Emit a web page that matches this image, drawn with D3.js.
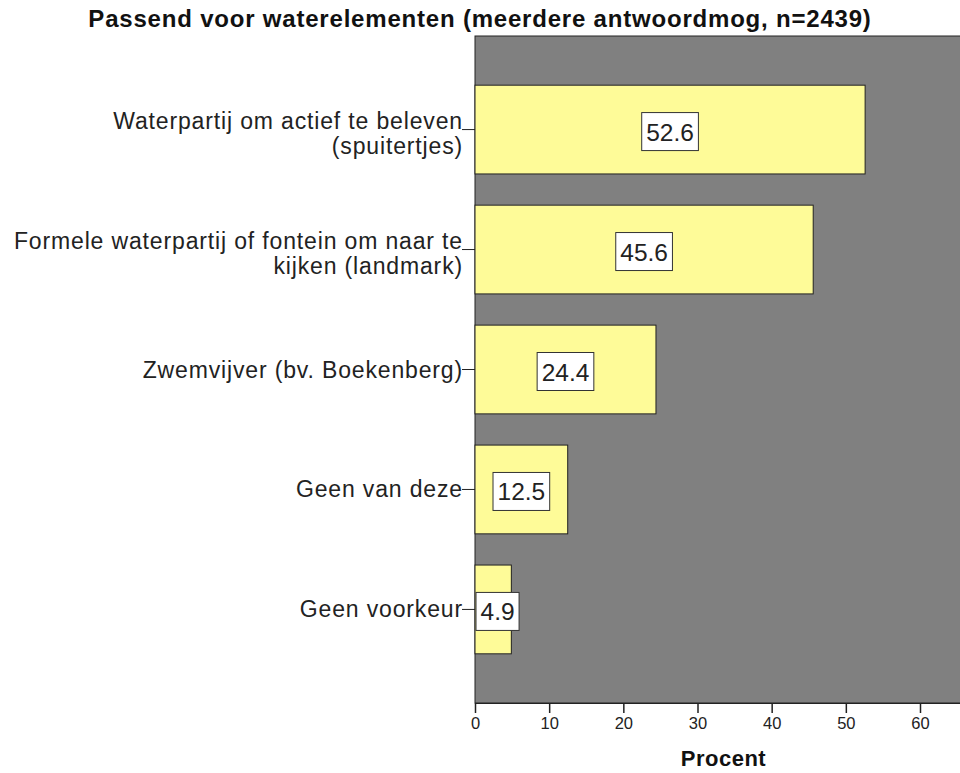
<!DOCTYPE html>
<html>
<head>
<meta charset="utf-8">
<script src="https://d3js.org/d3.v7.min.js"></script>
<style>
  body { margin: 0; background: #fff; }
  text { font-family: "Liberation Sans", Arial, sans-serif; }
</style>
</head>
<body>
<div class="chart"></div>
<script>
// data
const categories = [
  ["Waterpartij om actief te beleven", "(spuitertjes)"],
  ["Formele waterpartij of fontein om naar te", "kijken (landmark)"],
  ["Zwemvijver (bv. Boekenberg)"],
  ["Geen van deze"],
  ["Geen voorkeur"]
];
const percent = [52.6, 45.6, 24.4, 12.5, 4.9];
const xTicks = [0, 10, 20, 30, 40, 50, 60];
const titleText = "Passend voor waterelementen (meerdere antwoordmog, n=2439)";
const xTitle = "Procent";

const width = 960, height = 773;
const plotLeft = 475, plotTop = 36, plotBottom = 703;
const xMax = 66.5;

const svg = d3.select('.chart').append('svg')
  .attr('width', width)
  .attr('height', height);

const xScale = d3.scaleLinear()
  .domain([0, xMax])
  .range([plotLeft, plotLeft + xMax * 445 / 60]);
const plotRight = xScale(xMax);

const yScale = d3.scaleBand()
  .domain(d3.range(categories.length))
  .range([plotTop, plotBottom])
  .paddingInner(0.26)
  .paddingOuter(0.41);

// plot background
svg.append('rect')
  .attr('x', plotLeft).attr('y', plotTop)
  .attr('width', plotRight - plotLeft).attr('height', plotBottom - plotTop)
  .attr('fill', '#808080')
  .attr('stroke', '#222').attr('stroke-width', 1);

// bars
svg.selectAll('.bar')
  .data(percent)
  .join('rect')
  .attr('class', 'bar')
  .attr('x', xScale(0))
  .attr('y', (d, i) => yScale(i))
  .attr('width', d => xScale(d) - xScale(0))
  .attr('height', yScale.bandwidth())
  .attr('fill', '#fefb98')
  .attr('stroke', '#222')
  .attr('stroke-width', 1);

// value labels in boxes
const lab = svg.selectAll('.val')
  .data(percent)
  .join('g')
  .attr('class', 'val');
lab.append('text')
  .text(d => d.toFixed(1))
  .attr('font-size', 24.5)
  .attr('fill', '#222')
  .attr('text-anchor', 'middle');
lab.each(function(d, i) {
  const g = d3.select(this);
  const t = g.select('text');
  const w = t.node().getComputedTextLength() + 9;
  const h = 38;
  let cx = (xScale(0) + xScale(d)) / 2;
  cx = Math.max(cx, plotLeft + 1 + w / 2);
  const cy = yScale(i) + yScale.bandwidth() / 2 + 2;
  g.insert('rect', 'text')
    .attr('x', cx - w / 2).attr('y', cy - h / 2)
    .attr('width', w).attr('height', h)
    .attr('fill', '#fff')
    .attr('stroke', '#333').attr('stroke-width', 1);
  t.attr('x', cx).attr('y', cy + 9);
});

// y axis: ticks + category labels
const yAxisGroup = svg.append('g');
categories.forEach((lines, i) => {
  const cy = yScale(i) + yScale.bandwidth() / 2;
  yAxisGroup.append('line')
    .attr('x1', plotLeft - 13).attr('x2', plotLeft)
    .attr('y1', cy).attr('y2', cy)
    .attr('stroke', '#222');
  const t = yAxisGroup.append('text')
    .attr('text-anchor', 'end')
    .attr('font-size', 23)
    .attr('letter-spacing', 0.85)
    .attr('fill', '#222');
  lines.forEach((s, k) => {
    t.append('tspan')
      .attr('x', plotLeft - 12)
      .attr('y', lines.length > 1 ? cy - 1 + k * 25 : cy + 8)
      .text(s);
  });
});

// x axis
const xAxis = d3.axisBottom(xScale)
  .tickValues(xTicks)
  .tickSize(10)
  .tickPadding(4)
  .tickSizeOuter(0);
const xAxisGroup = svg.append('g')
  .attr('transform', `translate(0,${plotBottom})`)
  .call(xAxis);
xAxisGroup.select('.domain').attr('stroke', '#222');
xAxisGroup.selectAll('line').attr('stroke', '#222').attr('stroke-width', 1.5);
xAxisGroup.selectAll('text')
  .attr('font-size', 16.5)
  .attr('font-family', '"Liberation Sans", Arial, sans-serif')
  .attr('fill', '#222')
  .attr('dy', '0.71em');

svg.append('text')
  .attr('x', 723.5)
  .attr('y', 766)
  .attr('text-anchor', 'middle')
  .attr('font-size', 22)
  .attr('font-weight', 'bold')
  .attr('letter-spacing', 0.5)
  .attr('fill', '#111')
  .text(xTitle);

svg.append('text')
  .attr('x', width / 2)
  .attr('y', 27)
  .attr('text-anchor', 'middle')
  .attr('font-size', 24)
  .attr('letter-spacing', 0.8)
  .attr('font-weight', 'bold')
  .attr('fill', '#111')
  .text(titleText);
</script>
</body>
</html>
